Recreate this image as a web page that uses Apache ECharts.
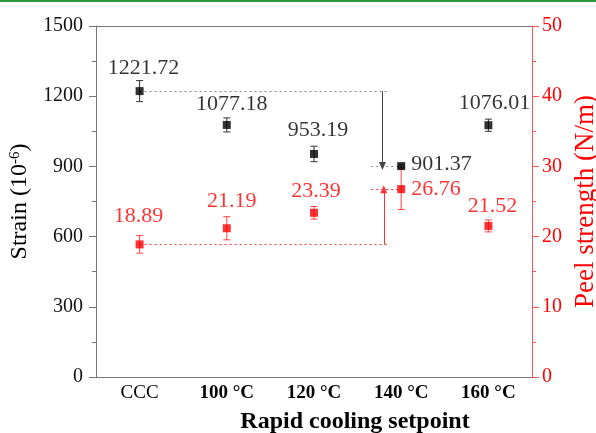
<!DOCTYPE html>
<html><head><meta charset="utf-8">
<script src="https://cdn.jsdelivr.net/npm/echarts@6/dist/echarts.min.js"></script>
<style>html,body{margin:0;padding:0;background:#fff}#c{width:596px;height:433px}</style>
</head><body><div id="c"></div>
<script>
// ---- data ----
const categories = ['CCC', '100 °C', '120 °C', '140 °C', '160 °C'];
const strain = [1221.72, 1077.18, 953.19, 901.37, 1076.01];
const strainErr = [45, 30, 33, 5, 26];
const peel = [18.89, 21.19, 23.39, 26.76, 21.52];
const peelErr = [1.25, 1.65, 0.9, 2.9, 0.85];
const strainTicks = [0, 300, 600, 900, 1200, 1500];
const peelTicks = [0, 10, 20, 30, 40, 50];
const strainDrop = '26%';
const peelRise = '40%';

// ---- layout (label placement, annotation positions) ----
const strainLabelPos = [
  {position: 'top', distance: 8, offset: [4, 0]},
  {position: 'top', distance: 6, offset: [5, 0]},
  {position: 'top', distance: 9, offset: [4, 0]},
  {position: 'right', distance: 6, offset: [0, -2]},
  {position: 'top', distance: 7, offset: [6, 0]}
];
const peelLabelPos = [
  {position: 'top', distance: 13, offset: [-1, 0]},
  {position: 'top', distance: 12, offset: [5, 0]},
  {position: 'top', distance: 7, offset: [2, 0]},
  {position: 'right', distance: 6, offset: [0, 0]},
  {position: 'top', distance: 5, offset: [4, 0]}
];
const annX = {lineEnd: 2.845, arrowBlack: 2.785, arrowRed: 2.80, shortStart: 2.657, text: 2.856};

const FONT = 'Liberation Serif';
const RED = '#ff0000';
const DOT = [2, 3];

function errRender(color) {
  return function (params, api) {
    const x = api.value(0), lo = api.value(1), hi = api.value(2);
    const p1 = api.coord([x, hi]), p2 = api.coord([x, lo]);
    const w = 3.5;
    const st = {stroke: color, lineWidth: 1};
    return {type: 'group', children: [
      {type: 'line', shape: {x1: p1[0], y1: p1[1], x2: p2[0], y2: p2[1]}, style: st},
      {type: 'line', shape: {x1: p1[0] - w, y1: p1[1], x2: p1[0] + w, y2: p1[1]}, style: st},
      {type: 'line', shape: {x1: p2[0] - w, y1: p2[1], x2: p2[0] + w, y2: p2[1]}, style: st}
    ]};
  };
}

const strainPts = strain.map((v, i) => ({
  value: [i, v],
  label: Object.assign({show: true, formatter: String(v.toFixed(2)), color: '#000',
    fontFamily: FONT, fontSize: 22}, strainLabelPos[i])
}));
const peelPts = peel.map((v, i) => ({
  value: [i, v],
  label: Object.assign({show: true, formatter: String(v.toFixed(2)), color: RED,
    fontFamily: FONT, fontSize: 22}, peelLabelPos[i])
}));

const chart = echarts.init(document.getElementById('c'), null, {renderer: 'canvas'});
chart.setOption({
  animation: false,
  backgroundColor: '#fff',
  graphic: [{type: 'rect', left: 0, top: 0, shape: {width: 596, height: 2}, style: {fill: '#2e9a3e'}}],
  grid: {left: 96, right: 64, top: 26, bottom: 56, containLabel: false, outerBoundsMode: 'none'},
  xAxis: [
    {
      type: 'category', data: categories, position: 'bottom', boundaryGap: true,
      axisLine: {onZero: false, lineStyle: {color: '#777', width: 1}},
      axisTick: {show: false},
      axisLabel: {
        interval: 0, margin: 7, fontFamily: FONT, fontSize: 19, color: '#000',
        formatter: v => v === 'CCC' ? '{n|' + v + '}' : '{b|' + v + '}',
        rich: {n: {fontFamily: FONT, fontSize: 19, color: '#000'},
               b: {fontFamily: FONT, fontSize: 19, fontWeight: 'bold', color: '#000'}}
      },
      name: 'Rapid cooling setpoint', nameLocation: 'middle', nameGap: 33,
      nameTextStyle: {fontFamily: FONT, fontSize: 24, fontWeight: 'bold', color: '#000', padding: [0, 0, 0, 82]}
    },
    {
      type: 'value', position: 'top', min: -0.5, max: 4.5,
      axisLine: {show: true, onZero: false, lineStyle: {color: '#777', width: 1}},
      axisTick: {show: false}, axisLabel: {show: false}, splitLine: {show: false}
    }
  ],
  yAxis: [
    {
      type: 'value', min: strainTicks[0], max: strainTicks[strainTicks.length - 1],
      interval: strainTicks[1] - strainTicks[0], position: 'left',
      axisLine: {show: true, onZero: false, lineStyle: {color: '#777', width: 1}},
      axisTick: {show: true, length: 7, lineStyle: {color: '#777'}},
      minorTick: {show: true, splitNumber: 2, length: 4, lineStyle: {color: '#777'}},
      splitLine: {show: false},
      axisLabel: {margin: 13, fontFamily: FONT, fontSize: 20, color: '#111', formatter: v => String(v)},
      name: 'Strain (10{sup|-6})', nameLocation: 'middle', nameGap: 59, nameRotate: 90,
      nameTextStyle: {fontFamily: FONT, fontSize: 24, color: '#000',
        rich: {sup: {fontFamily: FONT, fontSize: 15, color: '#000', verticalAlign: 'top', padding: [0, 0, 10, 0]}}}
    },
    {
      type: 'value', min: peelTicks[0], max: peelTicks[peelTicks.length - 1],
      interval: peelTicks[1] - peelTicks[0], position: 'right',
      axisLine: {show: true, onZero: false, lineStyle: {color: '#ff5555', width: 1}},
      axisTick: {show: true, length: 7, lineStyle: {color: '#ff5555'}},
      minorTick: {show: true, splitNumber: 2, length: 4, lineStyle: {color: '#ff5555'}},
      splitLine: {show: false},
      axisLabel: {margin: 10, fontFamily: FONT, fontSize: 20, color: RED, formatter: v => String(v)},
      name: 'Peel strength (N/m)', nameLocation: 'middle', nameGap: 39, nameRotate: 90,
      nameTextStyle: {fontFamily: FONT, fontSize: 27, color: RED}
    }
  ],
  series: [
    {
      type: 'custom', xAxisIndex: 1, yAxisIndex: 0, renderItem: errRender('#333'),
      encode: {x: 0, y: [1, 2]}, z: 2,
      data: strain.map((v, i) => [i, v - strainErr[i], v + strainErr[i]])
    },
    {
      type: 'custom', xAxisIndex: 1, yAxisIndex: 1, renderItem: errRender('#ff4444'),
      encode: {x: 0, y: [1, 2]}, z: 2,
      data: peel.map((v, i) => [i, v - peelErr[i], v + peelErr[i]])
    },
    {
      type: 'scatter', name: 'Strain', xAxisIndex: 1, yAxisIndex: 0, symbol: 'rect', symbolSize: 8,
      itemStyle: {color: '#000'}, z: 4, data: strainPts,
      markLine: {
        silent: true, symbol: 'none', label: {show: false}, z: 3,
        data: [
          [{coord: [0, strain[0]], lineStyle: {type: DOT, color: '#888', width: 1}},
           {coord: [annX.lineEnd, strain[0]]}],
          [{coord: [annX.shortStart, strain[3]], lineStyle: {type: DOT, color: '#888', width: 1}},
           {coord: [3, strain[3]]}],
          [{coord: [annX.arrowBlack, strain[0]], symbol: 'none', lineStyle: {type: 'solid', color: '#444', width: 1}},
           {coord: [annX.arrowBlack, strain[3]], symbol: 'triangle', symbolSize: [7, 8]}]
        ]
      }
    },
    {
      type: 'scatter', name: 'Peel strength', xAxisIndex: 1, yAxisIndex: 1, symbol: 'rect', symbolSize: 8,
      itemStyle: {color: RED}, z: 4, data: peelPts,
      markLine: {
        silent: true, symbol: 'none', label: {show: false}, z: 3,
        data: [
          [{coord: [0, peel[0]], lineStyle: {type: DOT, color: '#ff3333', width: 1}},
           {coord: [annX.lineEnd, peel[0]]}],
          [{coord: [annX.shortStart, peel[3]], lineStyle: {type: DOT, color: '#ff3333', width: 1}},
           {coord: [3, peel[3]]}],
          [{coord: [annX.arrowRed, peel[0]], symbol: 'none', lineStyle: {type: 'solid', color: '#ff3333', width: 1}},
           {coord: [annX.arrowRed, peel[3]], symbol: 'triangle', symbolSize: [7, 8]}]
        ]
      }
    },
    {
      type: 'scatter', xAxisIndex: 1, yAxisIndex: 0, symbolSize: 1, itemStyle: {opacity: 0}, z: 5,
      data: [{value: [annX.text, 1072], label: {show: true, position: 'inside', formatter: strainDrop,
        fontFamily: FONT, fontSize: 22, color: '#000'}}]
    },
    {
      type: 'scatter', xAxisIndex: 1, yAxisIndex: 1, symbolSize: 1, itemStyle: {opacity: 0}, z: 5,
      data: [{value: [annX.text, 21.1], label: {show: true, position: 'inside', formatter: peelRise,
        fontFamily: FONT, fontSize: 22, color: RED}}]
    }
  ]
});
</script></body></html>
